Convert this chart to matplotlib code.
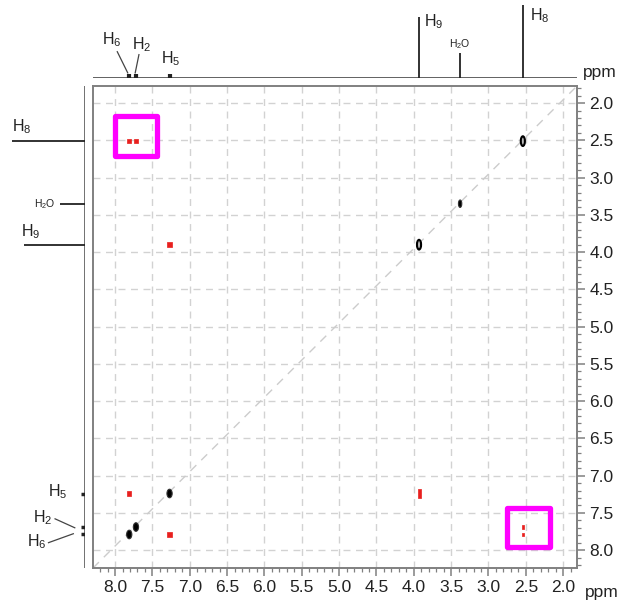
import matplotlib
matplotlib.use("Agg")
import matplotlib.pyplot as plt
from matplotlib.patches import Ellipse, Rectangle
from matplotlib.ticker import MultipleLocator, FormatStrFormatter

plt.rcParams["font.family"] = ["Liberation Sans", "DejaVu Sans"]
plt.rcParams["mathtext.default"] = "regular"

# proton labels and chemical shifts (ppm): f2 = horizontal, f1 = vertical
protons = ["H6", "H2", "H5", "H9", "H2O", "H8"]
shift_f2 = [7.81, 7.72, 7.27, 3.93, 3.38, 2.54]
shift_f1 = [7.79, 7.69, 7.24, 3.90, 3.35, 2.51]
# 1D projection intensities (relative)
intensity = [0.05, 0.06, 0.06, 0.84, 0.34, 1.00]

# diagonal peaks: (proton, style)
diag_peaks = [("H6", "fill"), ("H2", "fill"), ("H5", "fill"),
              ("H9", "ring"), ("H2O", "fill"), ("H8", "ring")]
# NOE cross peaks: (f2 proton, f1 proton)
cross_peaks = [("H6", "H8"), ("H2", "H8"), ("H8", "H6"), ("H8", "H2"),
               ("H6", "H5"), ("H5", "H6"), ("H9", "H5"), ("H5", "H9")]
# highlighted regions (ppm): (f2 high, f2 low, f1 low, f1 high)
highlight_boxes = [(8.007, 7.444, 2.168, 2.705), (2.746, 2.170, 7.430, 7.953)]

f2 = dict(zip(protons, shift_f2))
f1 = dict(zip(protons, shift_f1))
inten = dict(zip(protons, intensity))

W, H = 622, 605
fig = plt.figure(figsize=(W / 100, H / 100), dpi=100)

def fbox(x0, y0, x1, y1):
    return [x0 / W, 1 - y1 / H, (x1 - x0) / W, (y1 - y0) / H]

XL = (8.295, 1.815)
YL = (8.24, 1.77)
grey = "#808080"
txt = "#222222"

ax = fig.add_axes(fbox(93, 86, 577, 568))
ax.set_xlim(*XL)
ax.set_ylim(*YL)
for s in ax.spines.values():
    s.set_color(grey)
    s.set_linewidth(1.4)
ax.yaxis.tick_right()
ax.xaxis.set_major_locator(MultipleLocator(0.5))
ax.xaxis.set_minor_locator(MultipleLocator(0.1))
ax.yaxis.set_major_locator(MultipleLocator(0.5))
ax.yaxis.set_minor_locator(MultipleLocator(0.1))
ax.xaxis.set_major_formatter(FormatStrFormatter("%.1f"))
ax.yaxis.set_major_formatter(FormatStrFormatter("%.1f"))
ax.tick_params(which="major", direction="out", length=6, width=1.1, color=grey,
               labelsize=12.5, labelcolor=txt, pad=3)
ax.tick_params(which="minor", direction="out", length=3, width=0.9, color=grey)
ax.grid(True, which="major", color="#d2d2d2", linestyle=(0, (5, 4)), linewidth=1.0)
ax.set_axisbelow(True)
ax.plot([0, 1], [0, 1], transform=ax.transAxes, color="#cccccc",
        linestyle=(0, (6, 5)), linewidth=1.0, zorder=1)

# diagonal peaks
for name, style in diag_peaks:
    if name in ("H8", "H9"):
        w, h = 0.055, 0.13
    elif name == "H2O":
        w, h = 0.045, 0.1
    else:
        w, h = 0.07, 0.115
    if style == "ring":
        ax.add_patch(Ellipse((f2[name], f1[name]), w, h, facecolor="#bbbbbb",
                             edgecolor="black", linewidth=1.5, zorder=3))
    else:
        ax.add_patch(Ellipse((f2[name], f1[name]), w, h, facecolor="black",
                             edgecolor="#333333", linewidth=0.8, zorder=3))

# cross peaks
for a, b in cross_peaks:
    if a == "H8":
        w, h = 0.028, 0.05
    elif b == "H8":
        w, h = 0.05, 0.045
    elif a == "H9":
        w, h = 0.04, 0.11
    elif a == "H6":
        w, h = 0.05, 0.08
    else:
        w, h = 0.07, 0.065
    ax.add_patch(Rectangle((f2[a] - w / 2, f1[b] - h / 2), w, h,
                           facecolor="#e8201e", edgecolor="#e8201e",
                           linewidth=0.5, zorder=3, joinstyle="round"))

for x0, x1, y0, y1 in highlight_boxes:
    ax.add_patch(Rectangle((x1, y0), x0 - x1, y1 - y0, fill=False,
                           edgecolor="#ff00ff", linewidth=3.8, zorder=4,
                           joinstyle="round"))

# top projection
axt = fig.add_axes(fbox(93, 5, 577, 78))
axt.set_xlim(*XL)
axt.set_ylim(0, 1)
axt.axis("off")
axt.axhline(0, color="#555555", linewidth=1.3)
for p in protons:
    lw = 1.3 if inten[p] > 0.2 else 3.0
    axt.vlines(f2[p], 0, inten[p], color="#222222", linewidth=lw)
axt.text(2.44, 0.86, "H$_8$", fontsize=11.5, color=txt, va="center", ha="left")
axt.text(3.86, 0.77, "H$_9$", fontsize=11.5, color=txt, va="center", ha="left")
axt.text(3.38, 0.47, "H$_2$O", fontsize=7.5, color=txt, va="center", ha="center")
axt.text(8.04, 0.52, "H$_6$", fontsize=11.5, color=txt, va="center", ha="center")
axt.text(7.64, 0.46, "H$_2$", fontsize=11.5, color=txt, va="center", ha="center")
axt.text(7.26, 0.26, "H$_5$", fontsize=11.5, color=txt, va="center", ha="center")
axt.plot([7.97, 7.83], [0.36, 0.07], color="#444444", linewidth=0.9)
axt.plot([7.68, 7.73], [0.32, 0.07], color="#444444", linewidth=0.9)

# left projection
axl = fig.add_axes(fbox(12, 86, 85, 568))
axl.set_xlim(1, 0)
axl.set_ylim(*YL)
axl.axis("off")
axl.axvline(0, color="#666666", linewidth=1.3)
for p in protons:
    lw = 1.3 if inten[p] > 0.2 else 2.5
    axl.hlines(f1[p], 0, inten[p], color="#222222", linewidth=lw)
axl.text(0.86, 2.32, "H$_8$", fontsize=11.5, color=txt, va="center", ha="center")
axl.text(0.55, 3.36, "H$_2$O", fontsize=7.5, color=txt, va="center", ha="center")
axl.text(0.75, 3.72, "H$_9$", fontsize=11.5, color=txt, va="center", ha="center")
axl.text(0.37, 7.22, "H$_5$", fontsize=11.5, color=txt, va="center", ha="center")
axl.text(0.58, 7.57, "H$_2$", fontsize=11.5, color=txt, va="center", ha="center")
axl.text(0.66, 7.88, "H$_6$", fontsize=11.5, color=txt, va="center", ha="center")
axl.plot([0.41, 0.14], [7.58, 7.70], color="#444444", linewidth=0.9)
axl.plot([0.50, 0.16], [7.90, 7.78], color="#444444", linewidth=0.9)

fig.text(602 / W, 1 - 592 / H, "ppm", fontsize=12.5, color=txt, ha="center", va="center")
fig.text(600 / W, 1 - 72 / H, "ppm", fontsize=12.5, color=txt, ha="center", va="center")

fig.savefig("out.png", dpi=100)
